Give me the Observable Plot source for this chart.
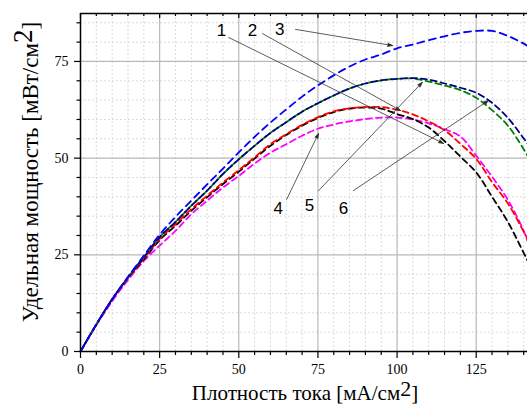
<!DOCTYPE html>
<html>
<head>
<meta charset="utf-8">
<script src="https://cdn.jsdelivr.net/npm/d3@7"></script>
<script src="https://cdn.jsdelivr.net/npm/@observablehq/plot@0.6"></script>
<style>
  body { margin: 0; background: #fff; }
  #chart svg { display: block; }
</style>
</head>
<body>
<div id="chart"></div>
<script>
// Current density, mA/cm^2
const current = [0, 5, 10, 15, 20, 25, 30, 35, 40, 45, 50, 55, 60, 65, 70, 75, 80, 85, 90, 95, 100, 105, 110, 115, 120, 125, 130, 135, 140, 141.2];

// Specific power density, mW/cm^2, curves 1–6
const power1 = [0, 7, 13.5, 19, 23.8, 28.8, 32.5, 36.4, 39.9, 43.3, 46.5, 49.9, 53.2, 56, 58.4, 60.4, 61.9, 62.8, 63.1, 62.8, 61.4, 60.1, 57.9, 54.4, 50.4, 46.3, 40, 33.5, 25.5, 23.5];
const power2 = [0, 7, 13.5, 19, 24, 29.1, 32.9, 36.8, 40.3, 43.7, 46.9, 50.2, 53.6, 56.2, 58.6, 60.6, 62.1, 62.9, 63.2, 63.2, 62.5, 61.3, 59.5, 57.2, 53.7, 49.8, 43.8, 38.3, 31, 29.2];
const power3 = [0, 7, 13.5, 19.3, 24.8, 30.2, 34.8, 39, 43.2, 47.3, 51.5, 55.5, 59.2, 62.6, 65.9, 68.8, 71.4, 73.7, 75.5, 76.8, 78.4, 79.4, 80.5, 81.5, 82.4, 82.9, 82.9, 81.6, 79.6, 79.0];
const power4 = [0, 6.8, 13, 18.5, 23.4, 27.4, 31.2, 35.5, 39, 42.4, 45.4, 48.6, 51.4, 53.6, 55.8, 57.6, 58.7, 59.5, 60.1, 60.5, 60.5, 60, 59, 57.5, 55.6, 50.6, 45.2, 39.2, 31.2, 28.5];
const power5 = [0, 7, 13.5, 19.2, 24.4, 29.6, 33.5, 37.7, 41.6, 45.9, 49.7, 53.2, 56.5, 59.3, 62, 64.2, 66.2, 68, 69.3, 70.1, 70.5, 70.6, 69.8, 68.8, 67.6, 65.6, 62.4, 58.4, 52.3, 50.6];
const power6 = [0, 7, 13.5, 19.2, 24.4, 29.6, 33.5, 37.7, 41.6, 45.9, 49.7, 53.2, 56.5, 59.3, 62, 64.2, 66.2, 68, 69.3, 70.1, 70.5, 70.7, 70.3, 69.3, 68.2, 66.9, 64.3, 60.4, 55.1, 53.8];

const seriesNames = ["1", "2", "3", "4", "5", "6"];
const seriesValues = [power1, power2, power3, power4, power5, power6];
const seriesColors = ["#000000", "#ff0000", "#0000ff", "#ff00ff", "#008000", "#000080"];

// Tick values
const xMajor = [0, 25, 50, 75, 100, 125];
const xMinor = [5, 10, 15, 20, 30, 35, 40, 45, 55, 60, 65, 70, 80, 85, 90, 95, 105, 110, 115, 120, 130, 135, 140];
const yMajor = [0, 25, 50, 75];
const yMinor = [5, 10, 15, 20, 30, 35, 40, 45, 55, 60, 65, 70, 80, 85];

// Curve number labels and leader arrows (data units)
const labelText = ["1", "2", "3", "4", "5", "6"];
const labelX = [44.5, 54.3, 62.9, 62.5, 72.3, 83.1];
const labelY = [83.0, 83.0, 83.3, 37.0, 37.8, 37.0];
const arrowFromX = [46.8, 57.5, 67.9, 65.1, 75.2, 86.2];
const arrowFromY = [81.2, 82.2, 83.3, 39.3, 41.6, 41.6];
const arrowToX = [114.7, 101.1, 98.6, 75.2, 108.0, 128.9];
const arrowToY = [53.8, 62.3, 79.1, 56.4, 69.6, 64.9];

const xMax = 141.2;
const yMax = 87.4;

const labels = labelText.map((t, i) => ({t, x: labelX[i], y: labelY[i]}));
const arrows = labelText.map((t, i) => ({x1: arrowFromX[i], y1: arrowFromY[i], x2: arrowToX[i], y2: arrowToY[i]}));

const rowsFor = i => current.map((x, j) => ({x, y: seriesValues[i][j]}));

// drawing order and dash styles per curve
const lineStyle = [
  {i: 3, dash: "6,4", off: 0},
  {i: 0, dash: "6,4", off: 0},
  {i: 1, dash: "6,4", off: 5},
  {i: 4, dash: "6,4", off: 0},
  {i: 5, dash: "6,4", off: 5},
  {i: 2, dash: "7,5", off: 0}
];

const innerH = 409 - 13 - 58;

const chart = Plot.plot({
  width: 527,
  height: 409,
  marginLeft: 80,
  marginRight: 0,
  marginTop: 13,
  marginBottom: 58,
  style: {fontFamily: "'Liberation Serif', 'Times New Roman', serif", fontSize: "14px", color: "#000", background: "#fff"},
  x: {domain: [0, xMax]},
  y: {domain: [0, yMax]},
  marks: [
    // minor grid
    Plot.ruleX(xMinor, {x: d => d, stroke: "#d6d6d6", strokeOpacity: 1, strokeWidth: 0.9, strokeDasharray: "2,2"}),
    Plot.ruleY(yMinor, {y: d => d, stroke: "#d6d6d6", strokeOpacity: 1, strokeWidth: 0.9, strokeDasharray: "2,2"}),
    // major grid
    Plot.ruleX(xMajor.filter(d => d > 0), {x: d => d, stroke: "#b8b8b8", strokeOpacity: 1, strokeWidth: 1.2}),
    Plot.ruleY(yMajor.filter(d => d > 0), {y: d => d, stroke: "#b8b8b8", strokeOpacity: 1, strokeWidth: 1.2}),
    // curves
    ...lineStyle.map(s => Plot.line(rowsFor(s.i), {
      x: "x", y: "y", curve: "catmull-rom",
      stroke: seriesColors[s.i], strokeWidth: 1.8,
      strokeDasharray: s.dash, strokeDashoffset: s.off
    })),
    // leader arrows
    Plot.arrow(arrows, {x1: "x1", y1: "y1", x2: "x2", y2: "y2", stroke: "#333", fill: "#222", strokeWidth: 0.8, headLength: 10, headAngle: 36}),
    Plot.text(labels, {x: "x", y: "y", text: "t", fontFamily: "'Liberation Sans', Arial, sans-serif", fontSize: 17, fill: "#000"}),
    // axes lines
    Plot.ruleX([0], {stroke: "#000", strokeWidth: 1.5}),
    Plot.ruleY([0], {stroke: "#000", strokeWidth: 1.5}),
    Plot.ruleY([yMax], {stroke: "#000", strokeWidth: 1.5}),
    // top mirrored ticks, pointing inward
    Plot.tickX(xMajor, {stroke: "#000", strokeWidth: 1.2, insetBottom: innerH - 5}),
    Plot.tickX(xMinor, {stroke: "#000", strokeWidth: 1.2, insetBottom: innerH - 3}),
    // axes
    Plot.axisX(xMajor, {tickSize: 7, tickPadding: 6, tickFormat: d => String(d), label: null, strokeWidth: 1.2}),
    Plot.axisX(xMinor, {tickSize: 4, tickFormat: () => "", label: null, strokeWidth: 1.2}),
    Plot.axisY(yMajor, {tickSize: 6, tickPadding: 6, tickFormat: d => String(d), label: null, strokeWidth: 1.2}),
    Plot.axisY(yMinor, {tickSize: 3.5, tickFormat: () => "", label: null, strokeWidth: 1.2})
  ]
});

document.getElementById("chart").appendChild(chart);

// Axis titles with raised exponent
const svg = d3.select(chart);
const serif = "'Liberation Serif', 'Times New Roman', serif";

const yTitle = svg.append("text")
  .attr("transform", "translate(38,172) rotate(-90)")
  .attr("text-anchor", "middle")
  .attr("font-family", serif)
  .attr("font-size", 23)
  .attr("fill", "#000");
yTitle.append("tspan").text("Удельная мощность [мВт/см");
yTitle.append("tspan").attr("dy", -6).attr("font-size", 27).text("2");
yTitle.append("tspan").attr("dy", 6).text("]");

const xTitle = svg.append("text")
  .attr("x", 305)
  .attr("y", 400)
  .attr("text-anchor", "middle")
  .attr("font-family", serif)
  .attr("font-size", 21)
  .attr("fill", "#000");
xTitle.append("tspan").text("Плотность тока [мА/см");
xTitle.append("tspan").attr("dy", -4).attr("font-size", 22).text("2");
xTitle.append("tspan").attr("dy", 4).text("]");
</script>
</body>
</html>
